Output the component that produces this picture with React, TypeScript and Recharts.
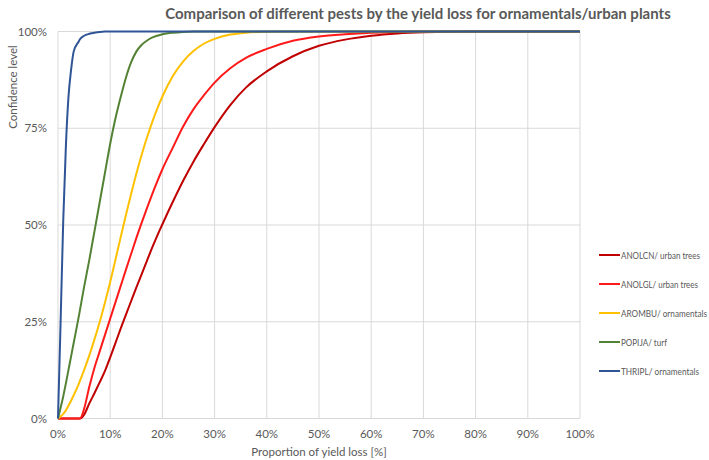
import React from "react";
import { LineChart, Line, XAxis, YAxis, CartesianGrid } from "recharts";

const xValues = [0, 0.5, 1, 1.5, 2, 2.5, 3, 4, 4.2, 5, 6, 7, 8, 9, 10, 11, 12, 13, 14, 15, 16, 17, 18, 19, 20, 22, 24, 26, 28, 30, 33, 36, 40, 45, 50, 55, 60, 65, 70, 80, 100];

const anolcn = [0, 0, 0, 0, 0, 0, 0, 0, 0, 1, 3.9, 6.6, 9.4, 12.3, 15.8, 19.5, 23.2, 26.8, 30.3, 33.8, 37.2, 40.6, 44, 47.2, 50.2, 56, 61.5, 66.5, 71, 75.3, 81, 85.5, 89.7, 93.6, 96.3, 97.9, 98.9, 99.5, 99.8, 100, 100];
const anolgl = [0, 0, 0, 0, 0, 0, 0, 0, 0, 2.5, 8.2, 13.2, 17.4, 21.6, 25.8, 30, 34.2, 38.4, 42.5, 46.6, 50.5, 54.2, 57.8, 61.2, 64.4, 70, 75.5, 80, 83.6, 86.8, 90.5, 93.2, 95.5, 97.6, 98.7, 99.3, 99.7, 99.9, 100, 100, 100];
const arombu = [0, 0.5, 1.2, 2.1, 3.3, 4.6, 6, 9, 9.7, 12.5, 16.3, 20.5, 25, 30, 35.3, 41, 46.8, 52.5, 58, 63.2, 68, 72.4, 76.4, 80, 83.2, 88.5, 92.3, 95, 96.9, 98.1, 99.2, 99.7, 99.93, 100, 100, 100, 100, 100, 100, 100, 100];
const popija = [0, 2.8, 5.7, 9, 12.5, 16, 19.5, 26.5, 28, 34, 41, 48.5, 56, 63.5, 71, 77.5, 83, 88, 92, 94.8, 96.5, 97.6, 98.4, 98.9, 99.3, 99.7, 99.9, 100, 100, 100, 100, 100, 100, 100, 100, 100, 100, 100, 100, 100, 100];
const thripl = [0, 25, 51, 70, 83, 90, 94.8, 97.5, 98, 98.9, 99.4, 99.7, 99.9, 100, 100, 100, 100, 100, 100, 100, 100, 100, 100, 100, 100, 100, 100, 100, 100, 100, 100, 100, 100, 100, 100, 100, 100, 100, 100, 100, 100];

const xTicks = [0, 10, 20, 30, 40, 50, 60, 70, 80, 90, 100];
const yTicks = [0, 25, 50, 75, 100];

const seriesNames = ["ANOLCN/ urban trees", "ANOLGL/ urban trees", "AROMBU/ ornamentals", "POPIJA/ turf", "THRIPL/ ornamentals"];
const seriesKeys = ["anolcn", "anolgl", "arombu", "popija", "thripl"];
const seriesColors = ["#C00000", "#FF1A1A", "#FFC000", "#548235", "#2F5597"];

const titleText = "Comparison of different pests by the yield loss for ornamentals/urban plants";
const xLabel = "Proportion of yield loss [%]";
const yLabel = "Confidence level";

// legend text widths (style, px)
const legendTextWidths = [79, 77, 86, 46, 78];

const seriesValues = [anolcn, anolgl, arombu, popija, thripl];
const data = xValues.map((x, i) => {
  const row: Record<string, number> = { x };
  seriesKeys.forEach((k, j) => {
    row[k] = seriesValues[j][i];
  });
  return row;
});

const FONT = "Lato, 'Open Sans', sans-serif";
const GRAY = "#595959";

export default function App() {
  React.useLayoutEffect(() => {
    document.documentElement.style.overflow = "hidden";
    document.body.style.overflow = "hidden";
    document.body.style.margin = "0";
  }, []);
  return (
    <div style={{ position: "fixed", left: 0, top: 0, width: 709, height: 460, background: "#fff", overflow: "hidden" }}>
      <LineChart
        width={709}
        height={460}
        data={data}
        margin={{ top: 31.5, right: 129, bottom: 11.5, left: 8 }}
      >
        <CartesianGrid stroke="#D9D9D9" strokeWidth={1} />
        <XAxis
          dataKey="x"
          type="number"
          domain={[0, 100]}
          ticks={xTicks}
          tickFormatter={(v: number) => `${v}%`}
          height={30}
          axisLine={false}
          tickLine={false}
          tickSize={0}
          tickMargin={11}
          tick={{ fill: GRAY, fontSize: 11.5, fontFamily: FONT }}
          interval={0}
        />
        <YAxis
          type="number"
          domain={[0, 100]}
          ticks={yTicks}
          tickFormatter={(v: number) => `${v}%`}
          width={50}
          axisLine={false}
          tickLine={false}
          tickSize={0}
          tickMargin={11}
          tick={{ fill: GRAY, fontSize: 11.5, fontFamily: FONT }}
          interval={0}
        />
        {seriesKeys.map((k, i) => (
          <Line
            key={k}
            dataKey={k}
            name={seriesNames[i]}
            type="monotone"
            stroke={seriesColors[i]}
            strokeWidth={2}
            dot={false}
            activeDot={false}
            isAnimationActive={false}
          />
        ))}
      </LineChart>
      <svg width={709} height={460} style={{ position: "absolute", left: 0, top: 0, pointerEvents: "none" }}>
        <text x={418} y={19} textAnchor="middle" fontFamily={FONT} fontWeight="bold" fontSize={15} fill={GRAY}>
          {titleText}
        </text>
        <text x={319} y={456} textAnchor="middle" fontFamily={FONT} fontSize={11.5} fill={GRAY}>
          {xLabel}
        </text>
        <text
          x={0}
          y={0}
          transform="translate(17,87) rotate(-90)"
          textAnchor="middle"
          fontFamily={FONT}
          fontSize={11.5}
          fill={GRAY}
        >
          {yLabel}
        </text>
        {seriesNames.map((n, i) => {
          const cy = 255 + i * 29;
          return (
            <g key={n}>
              <line x1={599} x2={620} y1={cy} y2={cy} stroke={seriesColors[i]} strokeWidth={2} />
              <text
                x={621}
                y={cy + 3.5}
                fontFamily={FONT}
                fontSize={10}
                fill={GRAY}
                textLength={legendTextWidths[i]}
                lengthAdjust="spacingAndGlyphs"
              >
                {n}
              </text>
            </g>
          );
        })}
      </svg>
    </div>
  );
}
